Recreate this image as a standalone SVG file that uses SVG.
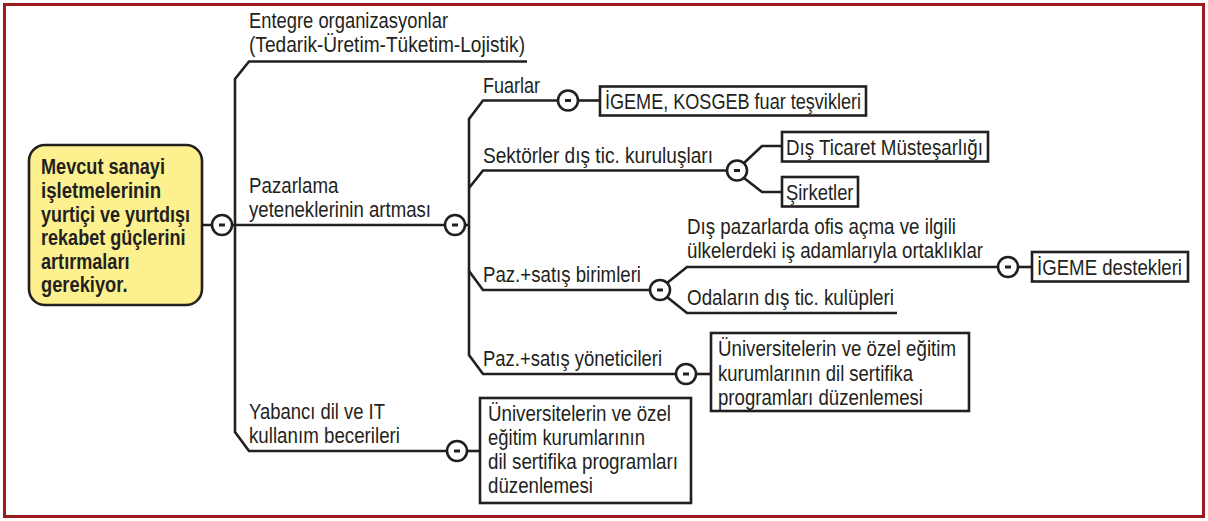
<svg xmlns="http://www.w3.org/2000/svg" xmlns:xlink="http://www.w3.org/1999/xlink" width="1208" height="521" viewBox="0 0 1208 521">
<style>
.t{font-family:"Liberation Sans Narrow","Liberation Sans",Arial,sans-serif;font-size:22px;fill:#231f20}
.b{font-weight:bold;font-size:21.5px}
.ln{fill:none;stroke:#231f20;stroke-width:2.6;stroke-linejoin:miter}
.box{fill:#ffffff;stroke:#231f20;stroke-width:2.6}
.root{fill:#fdf18f;stroke:#231f20;stroke-width:2.6}
.frame{fill:#ffffff;stroke:#9b1c20;stroke-width:3}
</style>
<defs>
<g id="minus">
<circle cx="0" cy="0" r="10" fill="#ffffff" stroke="#231f20" stroke-width="2.6"/>
<rect x="-3" y="-1.5" width="6" height="3" fill="#231f20"/>
</g>
</defs>
<rect class="frame" x="4.5" y="4.5" width="1199" height="512"/>

<g id="connectors">
<path class="ln" d="M202 225 H212 M232 225 H445"/>
<path class="ln" d="M527 61.5 H249 L235 79 V432 L249 451 H447"/>
<path class="ln" d="M465 225 H469"/>
<path class="ln" d="M558 100.5 H483 L469 119 V355 L483 374 H676"/>
<path class="ln" d="M727 170.5 H483 L469 188"/>
<path class="ln" d="M650 290 H483 L469 271"/>
<path class="ln" d="M578 100.5 H600"/>
<path class="ln" d="M744 163 L762 146 H782 M744 178 L762 192 H782"/>
<path class="ln" d="M667 283 L687 267 H998 M667 297 L687 313 H897"/>
<path class="ln" d="M1018 267 H1032"/>
<path class="ln" d="M696 374 H711"/>
<path class="ln" d="M467 451 H480"/>
<use xlink:href="#minus" x="222" y="225"/>
<use xlink:href="#minus" x="455" y="225"/>
<use xlink:href="#minus" x="568" y="100.5"/>
<use xlink:href="#minus" x="737" y="170.5"/>
<use xlink:href="#minus" x="660" y="290"/>
<use xlink:href="#minus" x="1008" y="267"/>
<use xlink:href="#minus" x="686" y="374"/>
<use xlink:href="#minus" x="457" y="451"/>
</g>

<g id="root">
<rect class="root" x="29" y="145" width="173" height="160" rx="16"/>
<text class="t b" x="41" y="174" textLength="124" lengthAdjust="spacingAndGlyphs">Mevcut sanayi</text>
<text class="t b" x="41" y="198" textLength="120" lengthAdjust="spacingAndGlyphs">işletmelerinin</text>
<text class="t b" x="41" y="221.5" textLength="149" lengthAdjust="spacingAndGlyphs">yurtiçi ve yurtdışı</text>
<text class="t b" x="41" y="245" textLength="144.5" lengthAdjust="spacingAndGlyphs">rekabet güçlerini</text>
<text class="t b" x="41" y="268.5" textLength="88.5" lengthAdjust="spacingAndGlyphs">artırmaları</text>
<text class="t b" x="41" y="292" textLength="86.5" lengthAdjust="spacingAndGlyphs">gerekiyor.</text>
</g>

<g id="entegre">
<text class="t" x="249" y="28" textLength="199" lengthAdjust="spacingAndGlyphs">Entegre organizasyonlar</text>
<text class="t" x="249" y="52" textLength="276" lengthAdjust="spacingAndGlyphs">(Tedarik-Üretim-Tüketim-Lojistik)</text>
</g>

<g id="pazarlama">
<text class="t" x="249" y="193" textLength="89.4" lengthAdjust="spacingAndGlyphs">Pazarlama</text>
<text class="t" x="249" y="217" textLength="182" lengthAdjust="spacingAndGlyphs">yeteneklerinin artması</text>
</g>

<g id="yabanci">
<text class="t" x="249" y="419" textLength="136" lengthAdjust="spacingAndGlyphs">Yabancı dil ve IT</text>
<text class="t" x="249" y="443" textLength="151" lengthAdjust="spacingAndGlyphs">kullanım becerileri</text>
</g>

<g id="yabanci-box">
<rect class="box" x="480" y="398" width="211" height="105"/>
<text class="t" x="488" y="421" textLength="183" lengthAdjust="spacingAndGlyphs">Üniversitelerin ve özel</text>
<text class="t" x="488" y="445" textLength="157" lengthAdjust="spacingAndGlyphs">eğitim kurumlarının</text>
<text class="t" x="488" y="469" textLength="190" lengthAdjust="spacingAndGlyphs">dil sertifika programları</text>
<text class="t" x="488" y="493" textLength="105" lengthAdjust="spacingAndGlyphs">düzenlemesi</text>
</g>

<g id="fuarlar">
<text class="t" x="483" y="93" textLength="57" lengthAdjust="spacingAndGlyphs">Fuarlar</text>
</g>

<g id="fuar-box">
<rect class="box" x="600" y="86.5" width="266" height="29"/>
<text class="t" x="605" y="109" textLength="256" lengthAdjust="spacingAndGlyphs">İGEME, KOSGEB fuar teşvikleri</text>
</g>

<g id="sektorler">
<text class="t" x="483" y="163" textLength="230" lengthAdjust="spacingAndGlyphs">Sektörler dış tic. kuruluşları</text>
</g>

<g id="dis-ticaret">
<rect class="box" x="782" y="132" width="206" height="29.5"/>
<text class="t" x="786" y="154.5" textLength="197" lengthAdjust="spacingAndGlyphs">Dış Ticaret Müsteşarlığı</text>
</g>

<g id="sirketler">
<rect class="box" x="782" y="177" width="76" height="29.5"/>
<text class="t" x="786" y="199.5" textLength="67.5" lengthAdjust="spacingAndGlyphs">Şirketler</text>
</g>

<g id="paz-birimleri">
<text class="t" x="483" y="282" textLength="158" lengthAdjust="spacingAndGlyphs">Paz.+satış birimleri</text>
</g>

<g id="dis-pazar">
<text class="t" x="687" y="234" textLength="269" lengthAdjust="spacingAndGlyphs">Dış pazarlarda ofis açma ve ilgili</text>
<text class="t" x="687" y="258" textLength="296" lengthAdjust="spacingAndGlyphs">ülkelerdeki iş adamlarıyla ortaklıklar</text>
</g>

<g id="igeme-destek">
<rect class="box" x="1032" y="252" width="156" height="29.5"/>
<text class="t" x="1037" y="275" textLength="145" lengthAdjust="spacingAndGlyphs">İGEME destekleri</text>
</g>

<g id="odalar">
<text class="t" x="687" y="305" textLength="207" lengthAdjust="spacingAndGlyphs">Odaların dış tic. kulüpleri</text>
</g>

<g id="paz-yonetici">
<text class="t" x="483" y="366" textLength="179" lengthAdjust="spacingAndGlyphs">Paz.+satış yöneticileri</text>
</g>

<g id="yonetici-box">
<rect class="box" x="711" y="333" width="258" height="78"/>
<text class="t" x="718" y="356" textLength="238" lengthAdjust="spacingAndGlyphs">Üniversitelerin ve özel eğitim</text>
<text class="t" x="718" y="380.5" textLength="195" lengthAdjust="spacingAndGlyphs">kurumlarının dil sertifika</text>
<text class="t" x="718" y="405" textLength="205" lengthAdjust="spacingAndGlyphs">programları düzenlemesi</text>
</g>
</svg>
